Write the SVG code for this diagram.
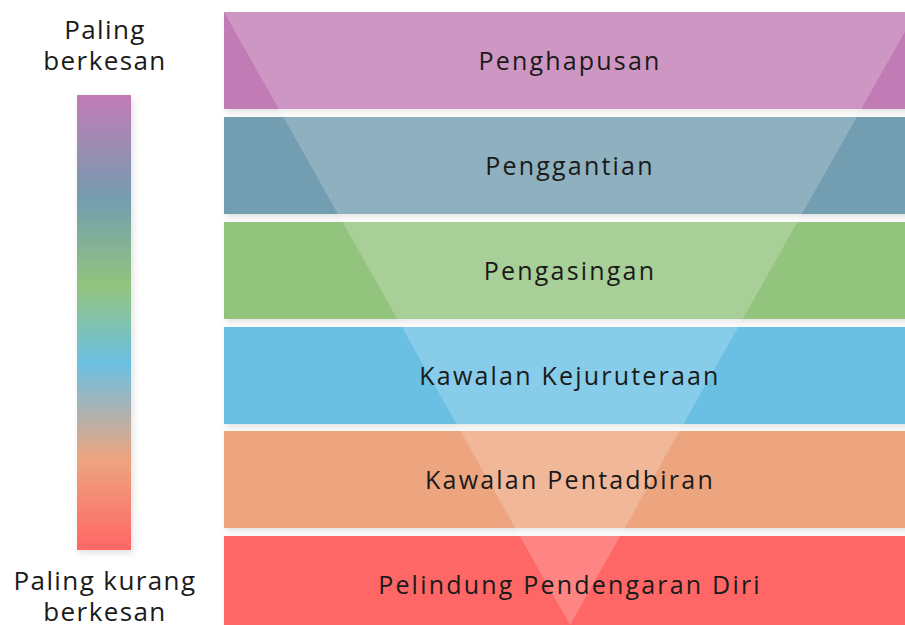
<svg xmlns="http://www.w3.org/2000/svg" width="905" height="625" viewBox="0 0 905 625">
<defs>
<linearGradient id="bar" x1="0" y1="0" x2="0" y2="1">
<stop offset="0" stop-color="#C27BB5"/>
<stop offset="0.23" stop-color="#739DB0"/>
<stop offset="0.42" stop-color="#93C47D"/>
<stop offset="0.59" stop-color="#6BC0E3"/>
<stop offset="0.80" stop-color="#EDA57F"/>
<stop offset="1" stop-color="#FF6666"/>
</linearGradient>
<filter id="sh" x="-20%" y="-20%" width="140%" height="140%">
<feDropShadow dx="2" dy="3" stdDeviation="3" flood-color="#000" flood-opacity="0.12"/>
</filter>
</defs>
<style>
text{font-family:"Open Sans","DejaVu Sans",sans-serif;fill:#1a1a1a;text-anchor:middle}
.side{font-size:26px;letter-spacing:1.4px}
.lbl{font-size:25px;letter-spacing:2.2px}
.band{filter:url(#sh)}
</style>
<rect width="905" height="625" fill="#fff"/>
<g id="scale">
<rect x="77" y="95" width="54" height="455" fill="url(#bar)" filter="url(#sh)"/>
<text class="side" x="105" y="39">Paling</text>
<text class="side" x="105" y="70">berkesan</text>
<text class="side" x="105" y="590">Paling kurang</text>
<text class="side" x="105" y="621">berkesan</text>
</g>
<g id="band1"><rect class="band" x="224" y="12" width="690" height="97" fill="#C27BB5"/></g>
<g id="band2"><rect class="band" x="224" y="117" width="690" height="97" fill="#739DB0"/></g>
<g id="band3"><rect class="band" x="224" y="222" width="690" height="97" fill="#93C47D"/></g>
<g id="band4"><rect class="band" x="224" y="327" width="690" height="97" fill="#6BC0E3"/></g>
<g id="band5"><rect class="band" x="224" y="431" width="690" height="97" fill="#EDA57F"/></g>
<g id="band6"><rect class="band" x="224" y="536" width="690" height="100" fill="#FF6666"/></g>
<polygon id="funnel" points="224,12 916,12 570,625" fill="#fff" fill-opacity="0.2"/>
<g id="labels">
<text class="lbl" x="570" y="70">Penghapusan</text>
<text class="lbl" x="570" y="175">Penggantian</text>
<text class="lbl" x="570" y="280">Pengasingan</text>
<text class="lbl" x="570" y="385">Kawalan Kejuruteraan</text>
<text class="lbl" x="570" y="489">Kawalan Pentadbiran</text>
<text class="lbl" x="570" y="594">Pelindung Pendengaran Diri</text>
</g>
</svg>
